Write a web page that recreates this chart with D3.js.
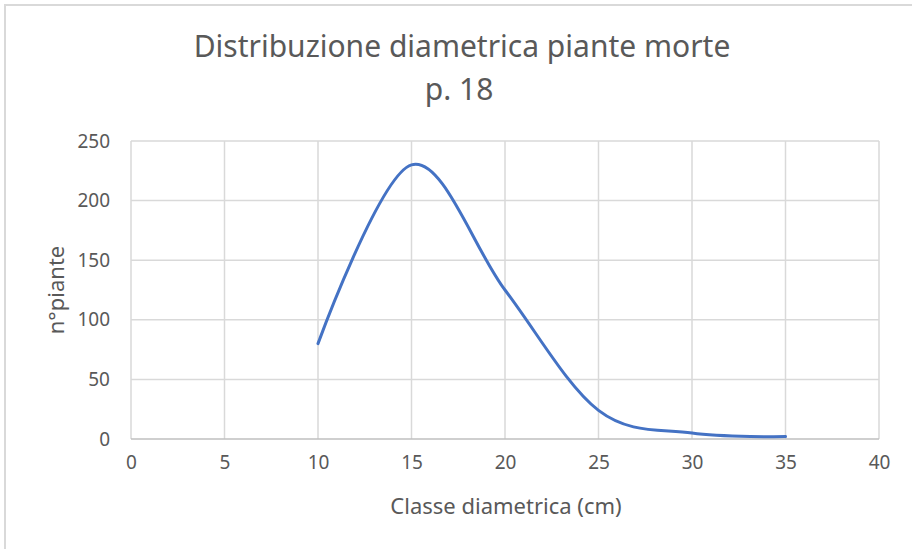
<!DOCTYPE html>
<html>
<head>
<meta charset="utf-8">
<script src="https://cdn.jsdelivr.net/npm/d3@7"></script>
<style>
  body { margin: 0; background: #fff; }
  text { font-family: "Noto Sans", "Open Sans", sans-serif; fill: #595959; }
</style>
</head>
<body>
<div id="chart"></div>
<script>
// classi diametriche (cm) e numero di piante morte
var classi = [10, 15, 20, 25, 30, 35]
var piante = [80, 230, 125, 24, 5, 2]

var xTicks = [0, 5, 10, 15, 20, 25, 30, 35, 40]
var yTicks = [0, 50, 100, 150, 200, 250]

var width = 912, height = 549
var margin = {top: 141, right: 33, bottom: 110, left: 131}

var svg = d3.select("#chart").append("svg")
    .attr("width", width)
    .attr("height", height)

// cornice del grafico
svg.append("path")
    .attr("d", `M5,${height} V5 H${width}`)
    .attr("fill", "none")
    .attr("stroke", "#d9d9d9")
    .attr("stroke-width", 2)

var x = d3.scaleLinear().domain([0, 40]).range([margin.left, width - margin.right])
var y = d3.scaleLinear().domain([0, 250]).range([height - margin.bottom, margin.top])

// griglia
svg.append("g")
    .selectAll("line")
    .data(xTicks)
    .enter().append("line")
    .attr("x1", d => x(d)).attr("x2", d => x(d))
    .attr("y1", y(0)).attr("y2", y(250))
    .attr("stroke", "#d9d9d9")
    .attr("stroke-width", 1.5)

svg.append("g")
    .selectAll("line")
    .data(yTicks)
    .enter().append("line")
    .attr("x1", x(0)).attr("x2", x(40))
    .attr("y1", d => y(d)).attr("y2", d => y(d))
    .attr("stroke", d => d == 0 ? "#bfbfbf" : "#d9d9d9")
    .attr("stroke-width", 1.5)

// assi
var xAxis = svg.append("g")
    .attr("transform", `translate(0,${y(0)})`)
    .call(d3.axisBottom(x).tickValues(xTicks).tickSize(0).tickPadding(17))
xAxis.select(".domain").remove()
xAxis.selectAll("text").attr("font-size", 19).attr("font-family", null)

var yAxis = svg.append("g")
    .attr("transform", `translate(${x(0)},0)`)
    .call(d3.axisLeft(y).tickValues(yTicks).tickSize(0).tickPadding(21))
yAxis.select(".domain").remove()
yAxis.selectAll("text").attr("font-size", 19).attr("font-family", null)

// curva smussata
var line = d3.line()
    .x((d, i) => x(classi[i]))
    .y(d => y(d))
    .curve(d3.curveCatmullRom.alpha(0))

svg.append("path")
    .datum(piante)
    .attr("d", line)
    .attr("fill", "none")
    .attr("stroke", "#4472c4")
    .attr("stroke-width", 3)
    .attr("stroke-linecap", "round")

// titoli
svg.append("text")
    .attr("x", 462)
    .attr("y", 57)
    .attr("text-anchor", "middle")
    .attr("font-size", 30)
    .text("Distribuzione diametrica piante morte")

svg.append("text")
    .attr("x", 459)
    .attr("y", 100)
    .attr("text-anchor", "middle")
    .attr("font-size", 30)
    .text("p. 18")

svg.append("text")
    .attr("x", 506)
    .attr("y", 514)
    .attr("text-anchor", "middle")
    .attr("font-size", 22)
    .text("Classe diametrica (cm)")

svg.append("text")
    .attr("transform", `translate(64,${(y(0) + y(250)) / 2}) rotate(-90)`)
    .attr("text-anchor", "middle")
    .attr("font-size", 22)
    .text("n°piante")
</script>
</body>
</html>
